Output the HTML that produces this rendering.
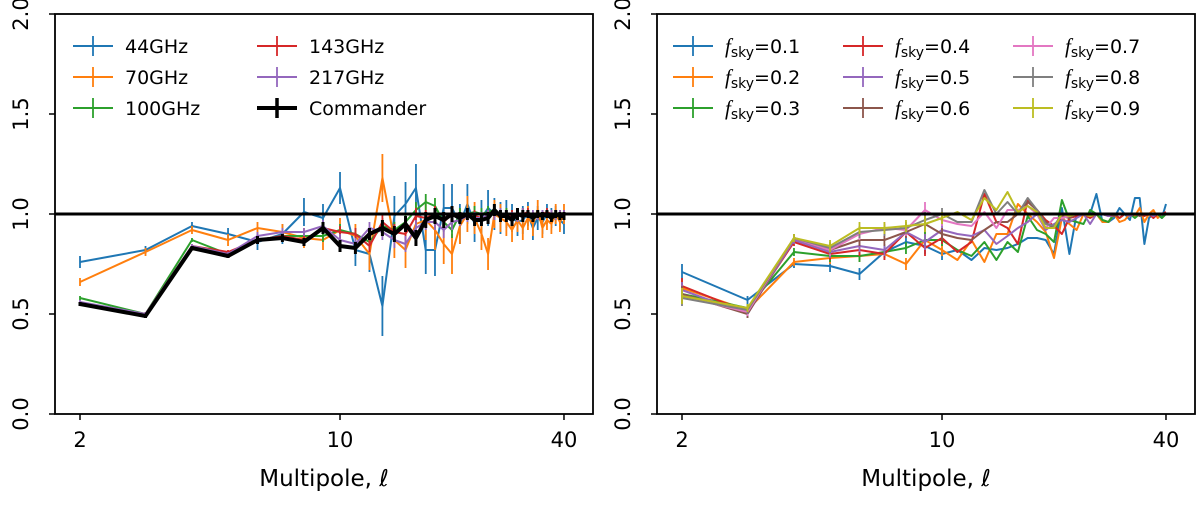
<!DOCTYPE html>
<html><head><meta charset="utf-8"><style>
body{margin:0;background:#fff;}
svg text{font-family:"DejaVu Sans","Liberation Sans",sans-serif;}
</style></head><body>
<svg id="fig" width="1200" height="506" xmlns="http://www.w3.org/2000/svg"></svg>
<script>
const ells=[];for(let l=2;l<=40;l++)ells.push(l);
const yTicks=[0.0,0.5,1.0,1.5,2.0];
const xTicks=[2,10,40];
// left panel series
const v44=[.76,.82,.94,.90,.86,.90,1.01,.98,1.13,.82,.80,.54,.99,1.05,1.13,.82,.82,1.03,1.03,.95,1.05,.95,.98,1.03,1.0,.98,1.0,.98,.96,.97,1.0,.93,.98,.96,1.0,.98,.99,.97,.95];
const v70=[.66,.81,.92,.87,.93,.91,.88,.87,.92,.89,.80,1.18,.87,.82,.95,.97,.92,.85,.80,.94,1.0,.98,.90,.80,1.0,.98,.96,.92,.97,.93,.98,.95,1.02,.93,.97,.95,1.0,.96,1.0];
const v100=[.58,.50,.87,.80,.87,.89,.89,.89,.92,.90,.86,.94,.92,.96,1.02,1.06,1.04,.96,.92,1.0,1.0,1.01,1.0,1.01,1.02,.99,1.0,.99,.99,1.0,1.0,.99,1.0,1.0,1.0,1.0,.99,1.0,1.0];
const v143=[.55,.50,.84,.81,.87,.89,.87,.93,.91,.90,.84,.96,.91,.90,.99,.98,1.0,.96,1.0,.98,1.0,.99,.98,.99,1.01,1.0,.99,.99,1.0,1.0,1.01,.99,1.0,1.0,1.01,1.0,1.0,1.0,1.0];
const v217=[.56,.50,.84,.80,.89,.91,.91,.94,.87,.85,.93,.91,.87,.85,.93,.96,.96,.92,.96,.97,.99,.98,.98,.99,1.0,1.0,.99,.98,.99,1.0,1.0,1.0,.99,1.0,1.0,1.0,.99,1.0,1.0];
const vCom=[.55,.49,.83,.79,.87,.88,.86,.93,.84,.83,.90,.93,.90,.95,.88,.97,.99,.97,1.0,.98,1.0,.97,.97,.98,1.02,.99,.99,.97,1.0,.99,1.0,.98,1.0,.99,1.0,.98,1.0,.99,.99];
const e44=[.03,.02,.02,.03,.04,.05,.07,.07,.08,.08,.09,.15,.10,.11,.12,.12,.13,.12,.12,.10,.10,.09,.09,.09,.08,.08,.07,.07,.07,.07,.06,.06,.06,.06,.05,.05,.05,.05,.05];
const e70=[.02,.02,.02,.03,.03,.04,.05,.05,.06,.06,.08,.12,.09,.09,.10,.10,.10,.10,.10,.09,.09,.08,.08,.08,.07,.07,.07,.06,.06,.06,.06,.06,.05,.05,.05,.05,.05,.05,.05];
const eSm=[.01,.01,.01,.01,.02,.02,.02,.03,.03,.03,.03,.04,.04,.04,.04,.04,.04,.04,.04,.03,.03,.03,.03,.03,.03,.03,.03,.03,.03,.03,.02,.02,.02,.02,.02,.02,.02,.02,.02];
// right panel series
const f1=[.71,.57,.75,.74,.70,.81,.86,.84,.80,.82,.77,.83,.82,.83,.85,.88,.88,.87,.80,1.03,.80,1.0,1.0,1.0,1.1,.96,.96,.98,1.03,1.0,.97,1.08,1.08,.85,.98,1.0,1.0,.98,1.05];
const f2=[.63,.52,.76,.78,.79,.80,.75,.87,.82,.77,.87,.76,.90,.90,1.05,1.0,.96,.91,.78,.98,.95,.92,1.0,1.0,1.0,.96,.96,1.0,.96,.97,1.0,.99,1.03,.96,1.0,1.02,.98,1.0,1.0];
const f3=[.60,.53,.81,.79,.79,.81,.83,.87,.87,.82,.79,.86,.77,.86,.81,.99,.92,.90,.86,1.07,.97,.96,.95,1.02,1.0,.97,.96,1.0,.98,1.0,1.0,.98,1.0,.99,1.0,.99,1.0,.98,1.0];
const f4=[.64,.51,.86,.80,.82,.80,.91,.83,.88,.81,.86,1.1,.96,.93,.85,1.07,1.02,.97,.94,.90,.98,.99,1.0,.98,1.0,1.0,.99,1.0,.98,1.0,.99,1.0,1.0,.99,1.0,.98,1.0,1.0,1.01];
const f5=[.62,.50,.87,.81,.84,.82,.91,.86,.92,.90,.89,.92,.85,.89,.93,.96,1.0,.92,.95,.97,.96,.98,1.0,.95,1.0,1.0,.99,.99,1.0,1.0,.99,1.0,.99,1.0,1.0,.99,1.0,1.0,1.0];
const f6=[.60,.50,.88,.82,.87,.87,.91,.95,.90,.88,.87,.92,.96,.96,1.0,1.06,1.02,.96,.93,.99,.98,1.0,1.0,.99,1.0,1.0,1.0,.99,1.0,1.0,1.0,1.0,.99,1.0,1.0,1.0,1.0,1.0,1.0];
const f7=[.59,.51,.88,.82,.90,.93,.92,1.02,.97,.95,.94,1.01,.93,1.02,1.02,1.04,1.0,.93,.98,.98,.99,1.0,1.0,.99,1.0,1.0,1.0,1.0,1.0,1.0,1.0,1.0,1.0,1.0,1.0,1.0,1.0,1.0,1.0];
const f8=[.58,.52,.88,.83,.91,.92,.93,.97,1.0,.96,.96,1.12,1.0,1.06,1.0,1.08,1.02,.95,.94,1.0,1.0,1.0,1.0,1.0,1.0,1.0,1.0,1.0,1.0,1.0,1.0,1.0,1.0,1.0,1.0,1.0,1.0,1.0,1.0];
const f9=[.59,.53,.88,.84,.93,.93,.94,.95,.98,1.01,.97,1.08,1.02,1.11,1.01,1.04,1.01,.93,.93,1.0,.99,1.0,1.0,.99,1.0,1.0,1.0,1.0,1.0,1.0,1.0,1.0,1.0,1.0,1.0,1.0,1.0,1.0,1.0];
const eR=[.04,.02,.02,.03,.03,.03,.03,.04,.03,.02,.02,.02,.01,.01,.01,.01,.01,.01,.01,.01,.01,.01,.01,.01,.01,.01,.01,.01,.01,.01,.01,.01,.01,.01,.01,.01,.01,.01,.01];

const NS="http://www.w3.org/2000/svg";
const svg=document.getElementById('fig');
function mk(t,a,p){const e=document.createElementNS(NS,t);for(const k in a)e.setAttribute(k,a[k]);(p||svg).appendChild(e);return e;}
const Y0=414,YS=200;
function yS(v){return Y0-v*YS;}
function panel(x0,name){
  const g=mk('g',{});
  
  
  const xS=l=>x0+25+(Math.log10(l)-Math.log10(2))*372;
  return {g,xS,x0};
}
function axes(P){
  const {g,xS,x0}=P;
  const r=mk('line',{x1:x0,x2:x0+538,y1:yS(1),y2:yS(1),stroke:'#000','stroke-width':3},g);
  
  
  const b=mk('rect',{x:x0,y:14,width:538,height:400,fill:'none',stroke:'#000','stroke-width':1.8},g);
  
  
  yTicks.forEach(v=>{
    mk('line',{x1:x0-6,x2:x0,y1:yS(v),y2:yS(v),stroke:'#000','stroke-width':1.5},g);
    const t=mk('text',{x:0,y:0,'font-size':21,'text-anchor':'middle',fill:'#000',transform:`translate(${x0-27},${yS(v)}) rotate(-90)`},g);
    t.textContent=v.toFixed(1);
    
    
  });
  xTicks.forEach(l=>{
    mk('line',{x1:xS(l),x2:xS(l),y1:414,y2:420,stroke:'#000','stroke-width':1.5},g);
    const t=mk('text',{x:xS(l),y:447,'font-size':21,'text-anchor':'middle'},g);
    t.textContent=l;
    
    
  });
  const xl=mk('text',{x:x0+269,y:486,'font-size':23,'text-anchor':'middle'},g);
  xl.textContent='Multipole, ℓ';
  
  
}
function series(P,vals,errs,color,w,name,errN){
  const {g,xS}=P;
  const sg=mk('g',{},g);
  
  
  const n=errN||vals.length;
  vals.forEach((v,i)=>{
    if(i>=n)return;
    const x=xS(ells[i]);
    const eb=mk('line',{x1:x,x2:x,y1:yS(v-errs[i]),y2:yS(v+errs[i]),stroke:color,'stroke-width':w>2?3:1.8},sg);
    
    
  });
  const pts=vals.map((v,i)=>xS(ells[i]).toFixed(1)+','+yS(v).toFixed(1)).join(' ');
  const pl=mk('polyline',{points:pts,fill:'none',stroke:color,'stroke-width':w,'stroke-linejoin':'round'},sg);
  
  
}
function legendEntry(g,x,y,color,label,w,sub){
  const lg=mk('g',{},g);
  
  
  mk('line',{x1:x,x2:x+40,y1:y,y2:y,stroke:color,'stroke-width':w},lg);
  mk('line',{x1:x+20,x2:x+20,y1:y-10,y2:y+10,stroke:color,'stroke-width':w>2?3.5:1.8},lg);
  const t=mk('text',{x:x+52,y:y+7,'font-size':19},lg);
  if(sub){
    t.innerHTML='<tspan font-style="italic" font-family="Liberation Serif,serif" font-size="21">f</tspan><tspan font-size="14" dy="4">sky</tspan><tspan dy="-4">='+label+'</tspan>';
  } else t.textContent=label;
}
const C=['#1f77b4','#ff7f0e','#2ca02c','#d62728','#9467bd','#8c564b','#e377c2','#7f7f7f','#bcbd22'];
const L=panel(55,'left-panel');
series(L,v44,e44,C[0],2,'series-44ghz');
series(L,v70,e70,C[1],2,'series-70ghz');
series(L,v100,eSm,C[2],2,'series-100ghz');
series(L,v143,eSm,C[3],2,'series-143ghz');
series(L,v217,eSm,C[4],2,'series-217ghz');
series(L,vCom,eSm,'#000',4,'series-commander');
axes(L);
legendEntry(L.g,73,46,C[0],'44GHz',2);
legendEntry(L.g,73,77,C[1],'70GHz',2);
legendEntry(L.g,73,108,C[2],'100GHz',2);
legendEntry(L.g,257,46,C[3],'143GHz',2);
legendEntry(L.g,257,77,C[4],'217GHz',2);
legendEntry(L.g,257,108,'#000','Commander',4);
const R=panel(657,'right-panel');
const F=[f1,f2,f3,f4,f5,f6,f7,f8,f9];
F.forEach((f,i)=>series(R,f,eR,C[i],2,'series-fsky-0'+(i+1),9));
axes(R);
const labs=['0.1','0.2','0.3','0.4','0.5','0.6','0.7','0.8','0.9'];
labs.forEach((s,i)=>legendEntry(R.g,673+Math.floor(i/3)*170,46+(i%3)*31,C[i],s,2,true));
</script>
</body></html>
